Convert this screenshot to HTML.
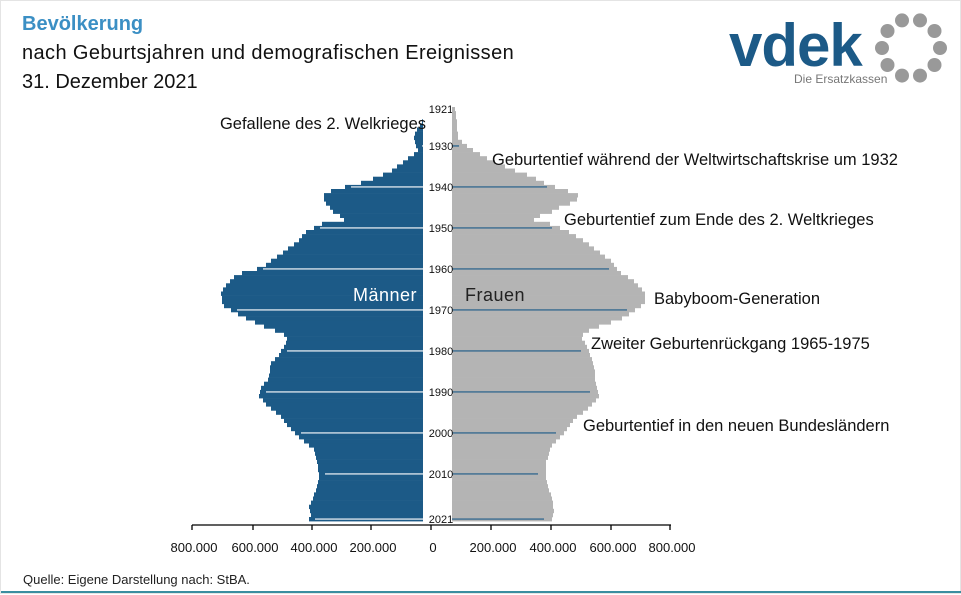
<!DOCTYPE html>
<html><head><meta charset="utf-8"><style>
body{margin:0;width:961px;height:594px;overflow:hidden;background:#fff;font-family:"Liberation Sans",sans-serif;}
#w{position:relative;width:959px;height:592px;border:1px solid #e4e4e4;}
.t{position:absolute;white-space:nowrap;}
</style></head><body><div id="w">
<div class="t" style="left:21px;top:12px;font-size:20px;font-weight:bold;color:#3b8fc4">Bevölkerung</div>
<div class="t" style="left:21px;top:41px;font-size:20px;color:#111;letter-spacing:0.4px">nach Geburtsjahren und demografischen Ereignissen</div>
<div class="t" style="left:21px;top:70px;font-size:20px;color:#111">31. Dezember 2021</div>
<div class="t" style="left:728px;top:10px;font-size:60px;font-weight:bold;color:#1c5a87;letter-spacing:-1px;line-height:70px">vdek</div>
<div class="t" style="left:793px;top:71px;font-size:12px;color:#777">Die Ersatzkassen</div>
<svg style="position:absolute;left:0;top:0" width="961" height="594" id="s"></svg>
<div class="t" style="left:22px;top:571px;font-size:13px;color:#222">Quelle: Eigene Darstellung nach: StBA.</div>
<div style="position:absolute;left:0;top:590px;width:961px;height:2px;background:#3a8ea0"></div>
</div>
<script>
var s=document.getElementById('s'),h='';
for(var i=0;i<10;i++){var a=i*Math.PI/5-Math.PI/2+Math.PI/10,cx=910+29*Math.cos(a),cy=47+29*Math.sin(a);
h+='<circle cx="'+cx.toFixed(1)+'" cy="'+cy.toFixed(1)+'" r="7" fill="#999"/>';}
var M=[[106,428],[123,420],[135,412],[150,417],[170,390],[180,367],[185,347],[192,323],[200,323],[207,330],[213,333],[216,343],[220,343],[222,323],[232,303],[240,297],[253,280],[267,260],[273,237],[282,227],[292,220],[300,221],[305,223],[313,237],[318,247],[323,257],[328,270],[335,287],[342,285],[355,277],[362,270],[378,268],[385,260],[395,258],[405,267],[415,280],[425,287],[438,300],[448,313],[465,317],[478,318],[495,313],[505,308],[515,310],[522,305]];
var F=[[106,454],[125,456],[137,457],[143,463],[150,473],[158,487],[167,507],[175,530],[182,543],[187,557],[193,577],[200,575],[207,557],[213,547],[216,533],[220,533],[223,550],[232,570],[240,583],[250,597],[260,610],[270,617],[280,633],[290,643],[300,645],[305,640],[312,630],[318,620],[328,590],[335,580],[348,587],[365,593],[385,595],[395,598],[405,590],[418,573],[432,563],[445,550],[462,545],[478,545],[495,550],[508,553],[522,550]];
function ip(P,y){if(y<=P[0][0])return P[0][1];for(var i=1;i<P.length;i++)if(y<=P[i][0]){var a=P[i-1],b=P[i];return a[1]+(b[1]-a[1])*(y-a[0])/(b[0]-a[0]);}return P[P.length-1][1];}
var dy=4.1;
for(var Y=1921;Y<=2021;Y++){var y0=106+(Y-1921)*dy,yc=y0+dy/2;
var ml=Math.round(ip(M,yc)),fr=Math.round(ip(F,yc));
h+='<rect x="'+ml+'" y="'+y0.toFixed(2)+'" width="'+(422-ml)+'" height="'+(dy+0.3).toFixed(2)+'" fill="#1c5a87"/>';
h+='<rect x="451" y="'+y0.toFixed(2)+'" width="'+(fr-451)+'" height="'+(dy+0.3).toFixed(2)+'" fill="#b4b4b4"/>';
var dec=((Y-1920)%10==0&&Y!=2020)||Y==2021;
if(dec||Y==1921){
 if(Y!=1921){h+='<line x1="'+(ml+6)+'" x2="422" y1="'+yc+'" y2="'+yc+'" stroke="#fff" stroke-width="1.2"/>';
 h+='<line x1="451" x2="'+(fr-8)+'" y1="'+yc+'" y2="'+yc+'" stroke="#1c5a87" stroke-width="1.2"/>';}
 h+='<text x="440" y="'+(yc+4)+'" font-size="11" text-anchor="middle" fill="#111" font-family="Liberation Sans">'+Y+'</text>';}
}
h+='<line x1="191" x2="670" y1="524" y2="524" stroke="#000" stroke-width="1.3"/>';
var ax=[[191,'800.000'],[252,'600.000'],[311,'400.000'],[370,'200.000'],[430,'0'],[490,'200.000'],[550,'400.000'],[610,'600.000'],[669,'800.000']];
ax.forEach(function(a){h+='<line x1="'+a[0]+'" x2="'+a[0]+'" y1="524" y2="529" stroke="#000" stroke-width="1.3"/><text x="'+(a[0]+2)+'" y="551" font-size="13" text-anchor="middle" fill="#111" font-family="Liberation Sans">'+a[1]+'</text>';});
var L=[[425,128,'Gefallene des 2. Welkrieges','end'],[491,164,'Geburtentief während der Weltwirtschaftskrise um 1932','start'],[563,224,'Geburtentief zum Ende des 2. Weltkrieges','start'],[653,303,'Babyboom-Generation','start'],[590,348,'Zweiter Geburtenrückgang 1965-1975','start'],[582,430,'Geburtentief in den neuen Bundesländern','start']];
L.forEach(function(a){h+='<text x="'+a[0]+'" y="'+a[1]+'" font-size="16.5" text-anchor="'+a[3]+'" fill="#111" font-family="Liberation Sans">'+a[2]+'</text>';});
h+='<text x="352" y="300" font-size="18" fill="#fff" font-family="Liberation Sans" letter-spacing="0.5">Männer</text>';
h+='<text x="464" y="300" font-size="18" fill="#222" font-family="Liberation Sans" letter-spacing="0.5">Frauen</text>';
s.innerHTML=h;
</script>
</body></html>
